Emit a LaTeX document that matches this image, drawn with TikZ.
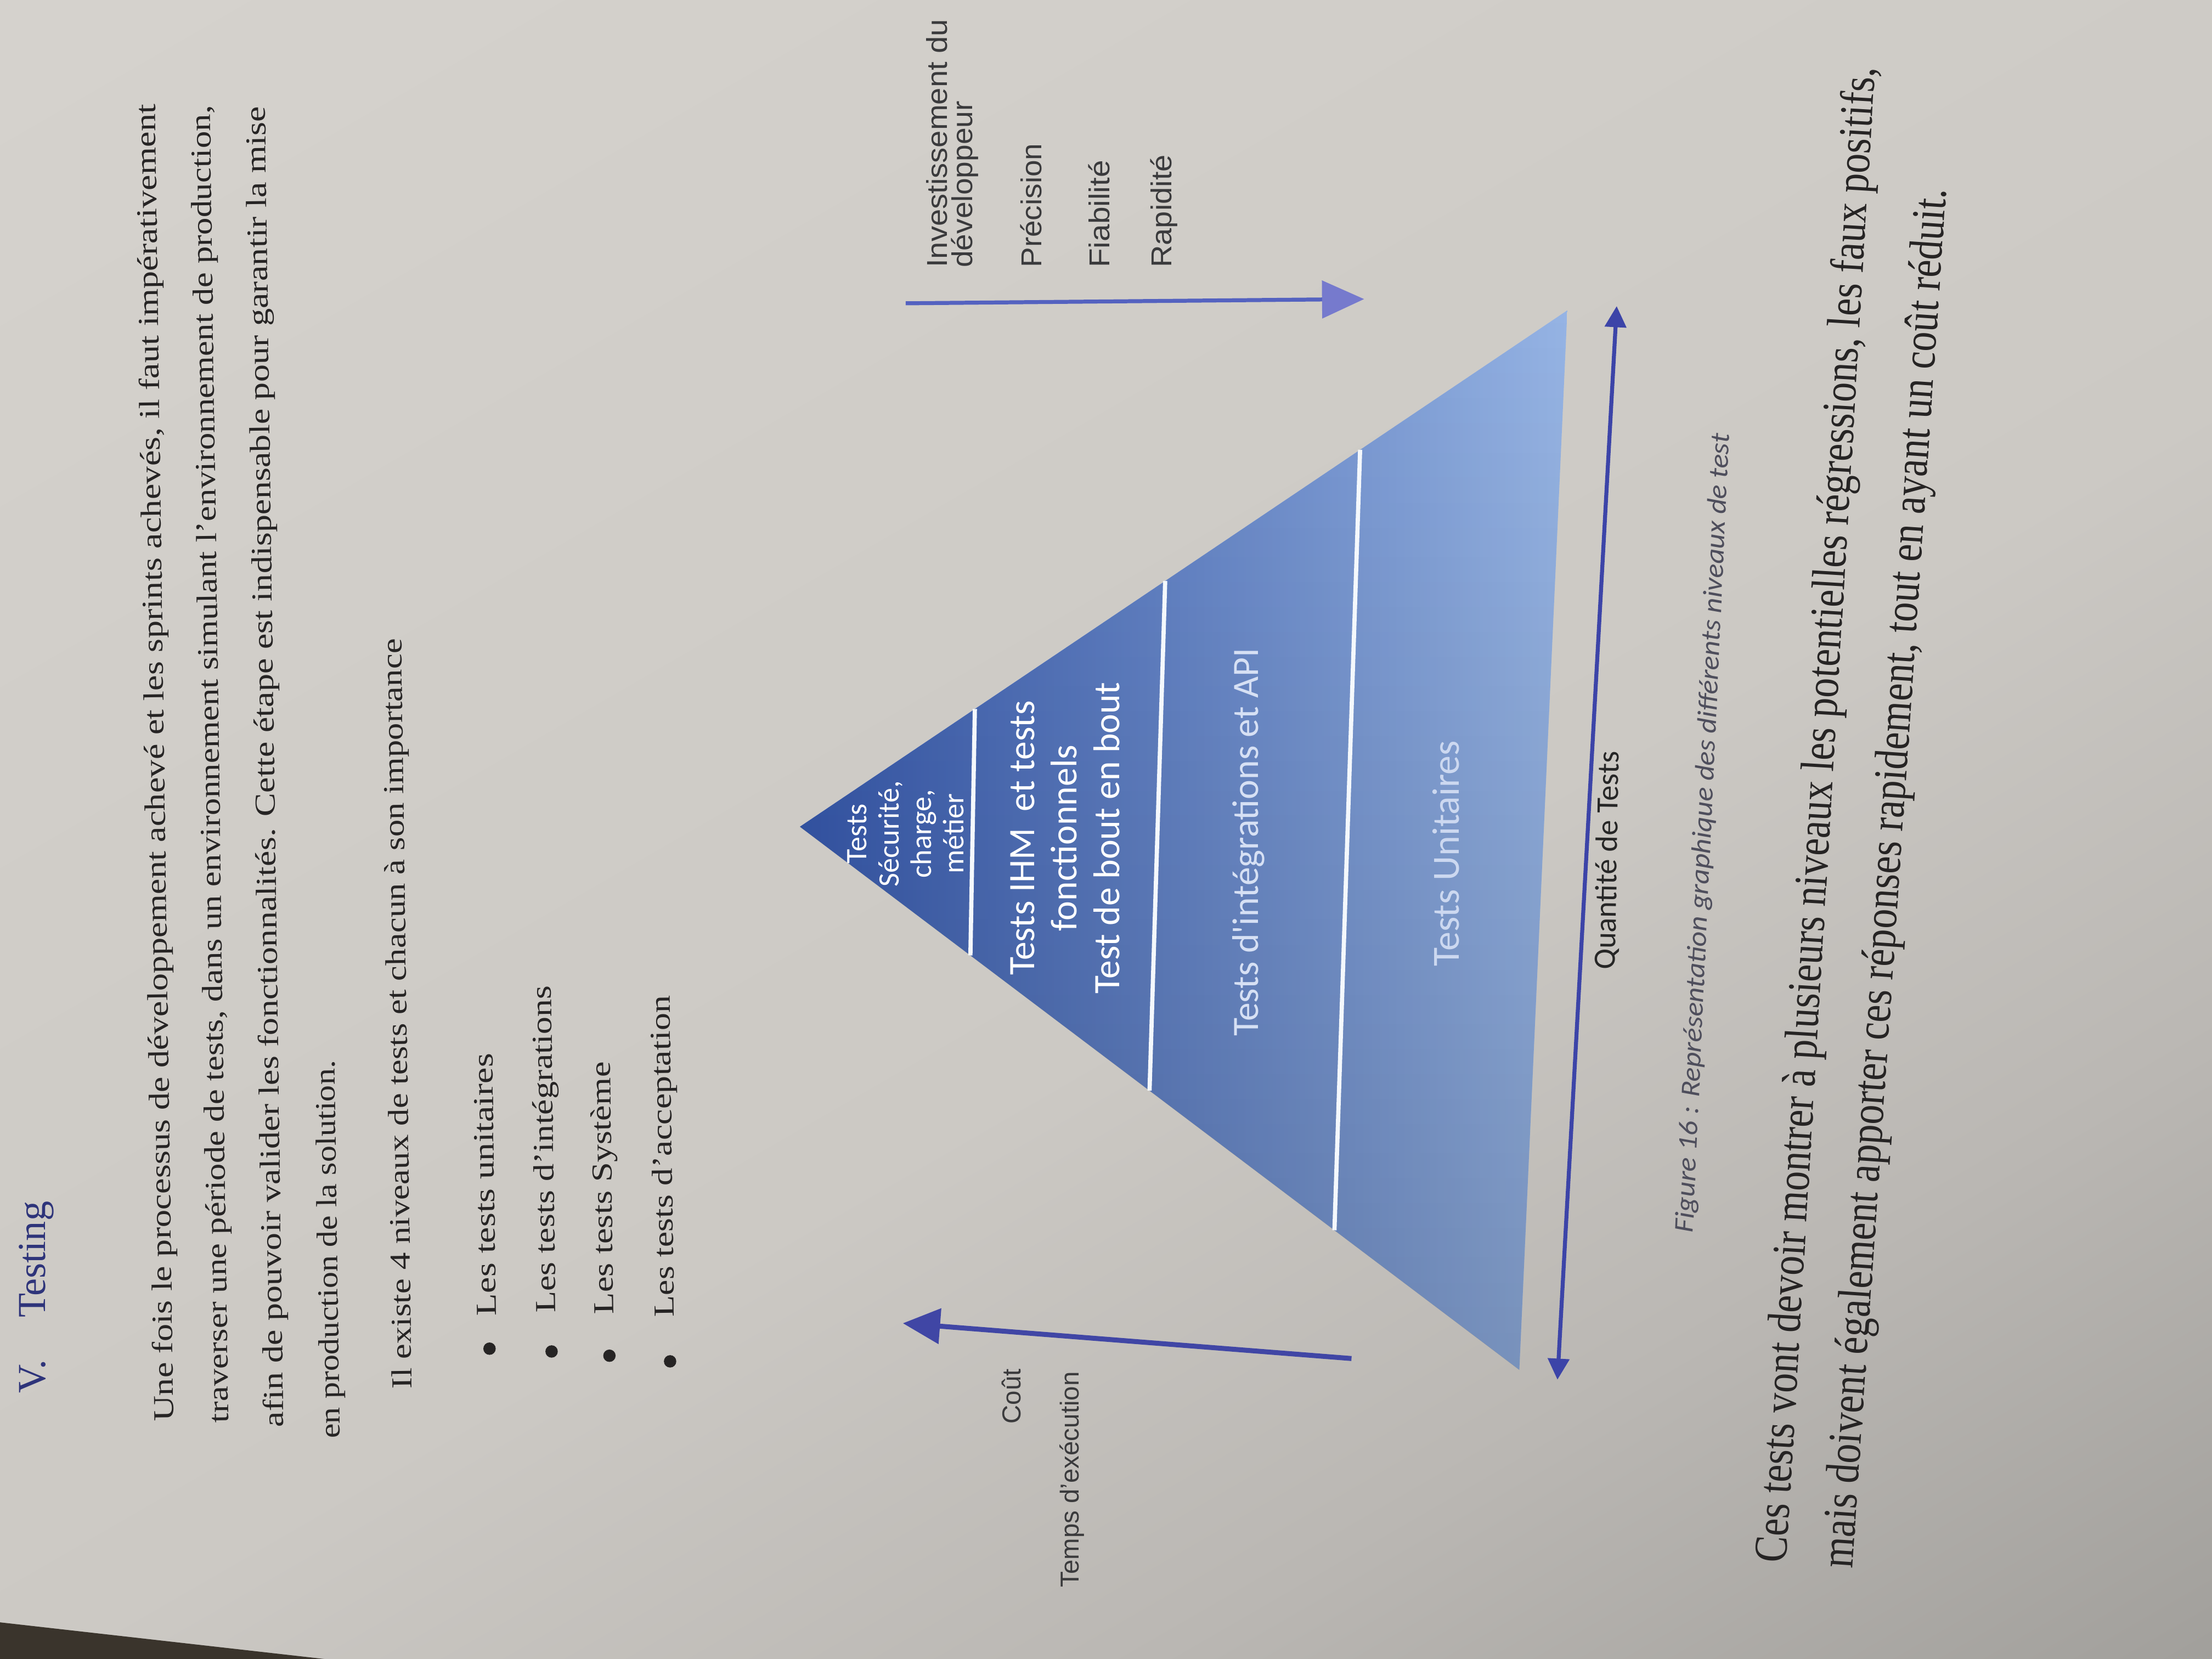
\documentclass[tikz,border=0pt]{standalone}
\usepackage{fontspec}
\usepackage{graphicx}
\setmainfont{Liberation Serif}
\newfontfamily\calibri{Carlito}
\newfontfamily\arialsans{Liberation Sans}
\usetikzlibrary{arrows.meta,calc,fadings}

\newlength\pxu
\setlength\pxu{0.02cm}
% stretch a line of text to a measured length, keeping its height
\newcommand{\fitw}[2]{\resizebox{#1\pxu}{\height}{#2}}

\definecolor{pagebg}{RGB}{217,214,209}
\definecolor{pagemid}{RGB}{204,201,196}
\definecolor{pagelow}{RGB}{186,183,179}
\definecolor{pagedeep}{RGB}{162,160,156}
\definecolor{pageshade}{RGB}{138,136,133}
\definecolor{tabledark}{RGB}{58,52,44}
\definecolor{inktext}{RGB}{38,36,36}
\definecolor{headblue}{RGB}{46,52,122}
\definecolor{pyrdark}{RGB}{54,88,172}
\definecolor{pyrlight}{RGB}{150,180,228}
\definecolor{costblue}{RGB}{64,70,165}
\definecolor{invblue}{RGB}{84,98,192}
\definecolor{invhead}{RGB}{118,122,205}
\definecolor{qtyblue}{RGB}{60,68,168}
\definecolor{captiongrey}{RGB}{78,78,92}
\definecolor{labelgrey}{RGB}{58,58,60}
\definecolor{faintlbl}{RGB}{214,224,244}
\definecolor{dimlbl}{RGB}{204,216,240}

% page lighting, dark end first
\pgfdeclareverticalshading{pagelight}{100bp}{color(0bp)=(pageshade); color(16bp)=(pagedeep); color(30bp)=(pagelow); color(45bp)=(pagemid); color(100bp)=(pagebg)}

\begin{document}
\begin{tikzpicture}[x=0.02cm, y=-0.02cm,
  bodytxt/.style={text=inktext, inner sep=0pt, anchor=west},
  pyrlbl/.style={rotate=90, align=center, inner sep=0pt, text=white},
  sidelbl/.style={rotate=90, inner sep=0pt, text=labelgrey, font=\arialsans\fontsize{11.6}{12}\selectfont},
  bulletdot/.style={circle, fill=inktext, inner sep=0pt, minimum size=5pt},
  divider/.style={draw=white!90!pyrlight, line width=1.7pt},
  costarrow/.style={-{Triangle[length=15pt,width=14pt]}, line width=2pt, costblue},
  invarrow/.style={-{Triangle[length=17pt,width=15pt,fill=invhead,color=invhead]}, line width=1.6pt, invblue},
  qtyarrow/.style={{Triangle[length=8.5pt,width=8.5pt]}-{Triangle[length=8.5pt,width=8.5pt]}, line width=1.6pt, qtyblue}]

% page and table edge
\shade[shading=pagelight, shading angle=30] (0,0) rectangle (1568,1176);
\fill[tabledark] (0,1150) -- (230,1176) -- (0,1176) -- cycle;
\useasboundingbox (0,0) rectangle (1568,1176);

% heading
\node[bodytxt, rotate=90, text=headblue, font=\fontsize{16}{18}\selectfont] (heading) at (26,988) {V.\hspace{30\pxu}Testing};

% first paragraph
\begin{scope}[font=\fontsize{11.7}{14}\selectfont]
\node[bodytxt, rotate=90.8] (par1) at (118,1008) {\fitw{934}{Une fois le processus de développement achevé et les sprints achevés, il faut impérativement}};
\node[bodytxt, rotate=90.8] (par2) at (157,1009) {\fitw{934}{traverser une période de tests, dans un environnement simulant l’environnement de production,}};
\node[bodytxt, rotate=90.8] (par3) at (196,1012) {\fitw{936}{afin de pouvoir valider les fonctionnalités. Cette étape est indispensable pour garantir la mise}};
\node[bodytxt, rotate=90.8] (par4) at (236,1020) {\fitw{268}{en production de la solution.}};
\node[bodytxt, rotate=90.8] (intro) at (287,985) {\fitw{532}{Il existe 4 niveaux de tests et chacun à son importance}};

% list
\node[bulletdot] (dot1) at (347,956) {};
\node[bulletdot] (dot2) at (391,958) {};
\node[bulletdot] (dot3) at (432,961) {};
\node[bulletdot] (dot4) at (475,965) {};
\node[bodytxt, rotate=90.8] (item1) at (345,933) {\fitw{186}{Les tests unitaires}};
\node[bodytxt, rotate=90.8] (item2) at (389,931) {\fitw{232}{Les tests d’intégrations}};
\node[bodytxt, rotate=90.8] (item3) at (430,932) {\fitw{179}{Les tests Système}};
\node[bodytxt, rotate=90.8] (item4) at (473,934) {\fitw{228}{Les tests d’acceptation}};
\end{scope}

% pyramid
\coordinate (apex) at (567,586);
\coordinate (tr) at (1111,220);
\coordinate (br) at (1077,971);
\shade[left color=pyrdark, right color=pyrlight] (apex) -- (tr) -- (br) -- cycle;
\fill[black, fill opacity=0.16, path fading=north] (apex) -- (tr) -- (br) -- cycle;
\draw[divider] ($(apex)!0.228!(tr)$) -- ($(apex)!0.237!(br)$);
\draw[divider] ($(apex)!0.476!(tr)$) -- ($(apex)!0.486!(br)$);
\draw[divider] ($(apex)!0.730!(tr)$) -- ($(apex)!0.743!(br)$);

\node[pyrlbl, font=\calibri\fontsize{12}{13.1}\selectfont] (lvlsec) at (642,591) {Tests\\Sécurité,\\charge,\\métier};
\node[pyrlbl, font=\calibri\fontsize{15}{17.1}\selectfont] (lvlihm) at (755,594) {Tests IHM\ \ et tests\\fonctionnels\\Test de bout en bout};
\node[pyrlbl, text=faintlbl, font=\calibri\fontsize{15}{17}\selectfont] (lvlapi) at (885,597) {Tests d'intégrations et API};
\node[pyrlbl, text=dimlbl, font=\calibri\fontsize{15.5}{17}\selectfont] (lvlunit) at (1025,605) {Tests Unitaires};

% axes
\coordinate (costend) at (958,963);
\coordinate (costtip) at (640,938);
\draw[costarrow] (costend) -- (costtip);
\coordinate (invstart) at (642,215);
\coordinate (invtip) at (967,212);
\draw[invarrow] (invstart) -- (invtip);
\coordinate (qtybot) at (1104,978);
\coordinate (qtytop) at (1146,217);
\draw[qtyarrow] (qtybot) -- (qtytop);

\node[sidelbl, anchor=east, font=\arialsans\fontsize{10.5}{12}\selectfont] (costlbl) at (717,970) {Coût};
\node[sidelbl, anchor=east, font=\arialsans\fontsize{10.5}{12}\selectfont] (timelbl) at (760,972) {Temps d’exécution};
\node[sidelbl, anchor=west] (invlbl) at (664,190) {\fitw{176}{Investissement du}};
\node[sidelbl, anchor=west] (devlbl) at (684,190) {\fitw{118}{développeur}};
\node[sidelbl, anchor=west] (preclbl) at (731,190) {\fitw{88}{Précision}};
\node[sidelbl, anchor=west] (fiablbl) at (779,190) {\fitw{76}{Fiabilité}};
\node[sidelbl, anchor=west] (rapilbl) at (825,190) {\fitw{80}{Rapidité}};
\node[rotate=89, inner sep=0pt, text=black!85, font=\calibri\fontsize{12.5}{14}\selectfont] (qtylbl) at (1140,610) {Quantité de Tests};

% caption
\node[bodytxt, rotate=87.4, text=captiongrey, font=\calibri\itshape\fontsize{11}{13}\selectfont] (figcap) at (1195,874) {\fitw{567}{Figure 16 : Représentation graphique des différents niveaux de test}};

% closing paragraph
\begin{scope}[font=\fontsize{19}{22}\selectfont]
\node[bodytxt, rotate=86.6] (close1) at (1258,1108) {\fitw{1062}{Ces tests vont devoir montrer à plusieurs niveaux les potentielles régressions, les faux positifs,}};
\node[bodytxt, rotate=86.1] (close2) at (1305,1112) {\fitw{980}{mais doivent également apporter ces réponses rapidement, tout en ayant un coût réduit.}};
\end{scope}
\end{tikzpicture}
\end{document}
